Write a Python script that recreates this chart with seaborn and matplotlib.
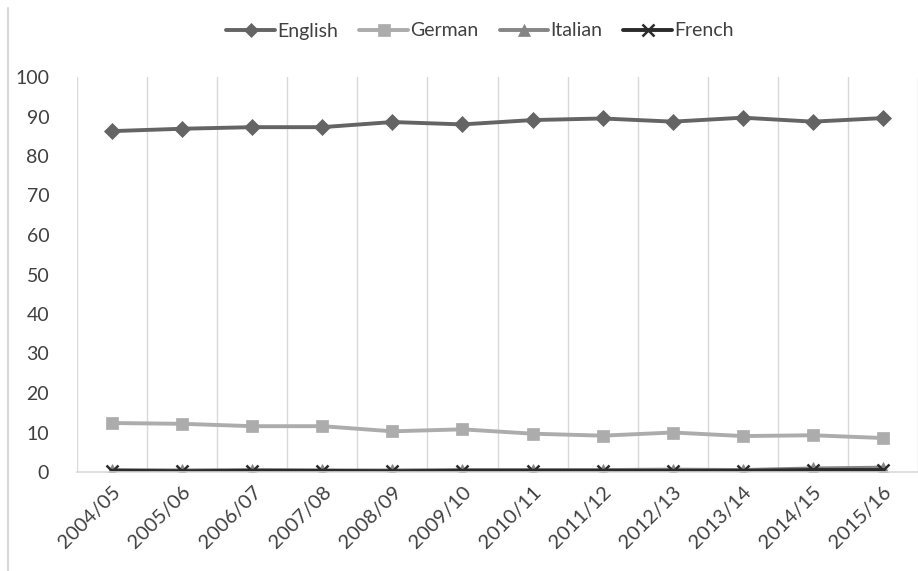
import matplotlib
matplotlib.use("Agg")
import matplotlib.pyplot as plt
import seaborn as sns
import pandas as pd
from matplotlib.lines import Line2D

years = ["2004/05", "2005/06", "2006/07", "2007/08", "2008/09", "2009/10",
         "2010/11", "2011/12", "2012/13", "2013/14", "2014/15", "2015/16"]
english = [86.3, 86.9, 87.3, 87.3, 88.6, 88.0, 89.1, 89.5, 88.7, 89.7, 88.7, 89.6]
german = [12.4, 12.2, 11.6, 11.6, 10.3, 10.8, 9.7, 9.2, 10.0, 9.1, 9.3, 8.6]
italian = [0.5, 0.4, 0.5, 0.4, 0.4, 0.5, 0.5, 0.5, 0.6, 0.5, 0.9, 1.1]
french = [0.3, 0.2, 0.3, 0.3, 0.2, 0.3, 0.3, 0.3, 0.3, 0.3, 0.5, 0.5]
yticks = list(range(0, 101, 10))

sns.set_theme(style="white")
plt.rcParams['font.family'] = ['Lato', 'DejaVu Sans']

fig = plt.figure(figsize=(9.18, 5.71), dpi=100)
ax = fig.add_axes([77/918, 1 - 472/571, 1 - 77/918, (472 - 77)/571])

series = [
    ("English", english, "#646464", "D", 8),
    ("German", german, "#acacac", "s", 9),
    ("Italian", italian, "#858585", "^", 9),
    ("French", french, "#2b2b2b", "x", 9),
]
handles = []
for name, vals, col, mk, ms in series:
    df = pd.DataFrame({"year": years, "value": vals})
    mew = 1.8 if mk == "x" else 0.5
    sns.lineplot(data=df, x="year", y="value", ax=ax, color=col, linewidth=2.8,
                 marker=mk, markersize=ms, markeredgecolor=col, markerfacecolor=col,
                 markeredgewidth=mew, sort=False)
    handles.append(Line2D([], [], color=col, linewidth=2.8, marker=mk, markersize=ms - 1,
                          markeredgecolor=col, markerfacecolor=col, markeredgewidth=mew))

cat_w = 70.6
ax.set_xlim(-0.5, (918 - 77) / cat_w - 0.5)
ax.set_ylim(0, 100)
ax.set_yticks(yticks)
ax.set_yticklabels([str(t) for t in yticks], fontsize=14, color="#404040")
ax.set_xticks(range(len(years)))
ax.set_xticklabels(years, rotation=45, ha="right", rotation_mode="anchor",
                   fontsize=14.5, color="#404040")
ax.set_xticks([i - 0.5 for i in range(len(years) + 1)], minor=True)
ax.grid(False)
ax.grid(True, which="minor", axis="x", color="#d9d9d9", linewidth=1)
ax.tick_params(axis="both", which="both", length=0)
ax.tick_params(axis="y", pad=20)
ax.tick_params(axis="x", pad=8)
ax.set_xlabel("")
ax.set_ylabel("")
for s in ["top", "right", "left"]:
    ax.spines[s].set_visible(False)
ax.spines["bottom"].set_color("#d9d9d9")
ax.spines["bottom"].set_linewidth(1.2)
ax.set_zorder(1)

fig.legend(handles, [s[0] for s in series], loc="center", bbox_to_anchor=(480/918, 1 - 31/571),
           ncol=4, frameon=False, fontsize=14, handlelength=2.5, columnspacing=1.1,
           handletextpad=0.1, labelcolor="#404040")

fig.add_artist(Line2D([8/918, 8/918], [0, 1 - 8/571], transform=fig.transFigure,
                      color="#d9d9d9", linewidth=1.5))

fig.savefig("out.png", dpi=100)
